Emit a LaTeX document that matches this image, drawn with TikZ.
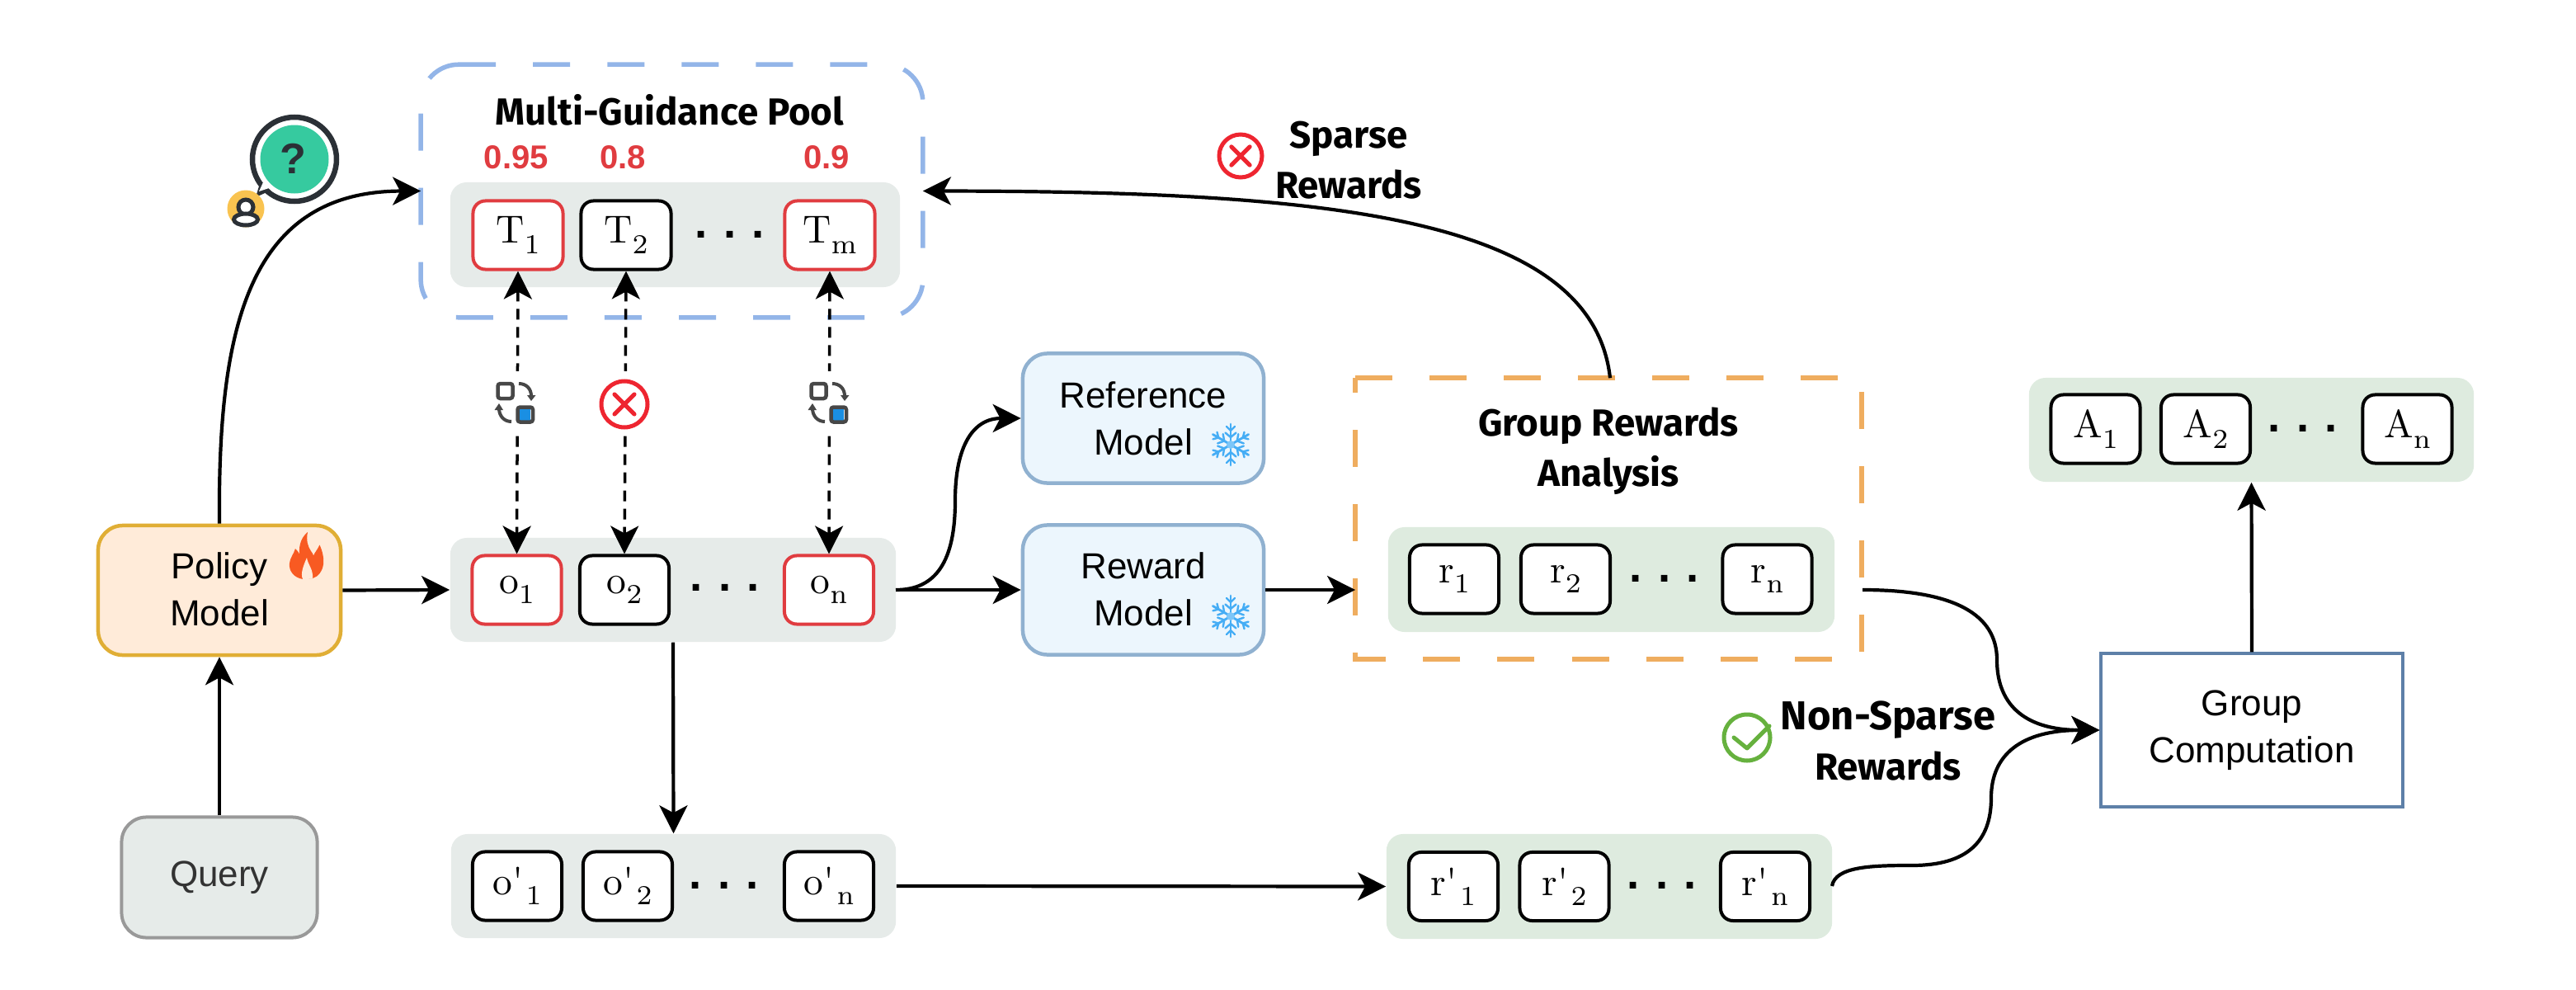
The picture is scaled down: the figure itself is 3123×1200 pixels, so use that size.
\RequirePackage{fix-cm}
\documentclass[tikz,border=0pt]{standalone}
\usepackage{graphicx}
\usepackage{fontspec}
\usetikzlibrary{arrows.meta}
\newfontfamily\arial{Liberation Sans}
\newfontfamily\comic{Fira Sans}
\definecolor{redc}{HTML}{E03C40}
\definecolor{xred}{HTML}{EE2530}
\definecolor{greybg}{HTML}{E6EBE9}
\definecolor{greenbg}{HTML}{DEEBDF}
\definecolor{bluedash}{HTML}{93B5E8}
\definecolor{orangedash}{HTML}{EFAD5F}
\definecolor{modelfill}{HTML}{ECF6FD}
\definecolor{modeldraw}{HTML}{90B1D0}
\definecolor{policyfill}{HTML}{FFEBD9}
\definecolor{policydraw}{HTML}{E0AE35}
\definecolor{querydraw}{HTML}{999999}
\definecolor{groupdraw}{HTML}{5E80A8}
\definecolor{icondark}{HTML}{2B3036}
\definecolor{swapdark}{HTML}{474747}
\definecolor{swapblue}{HTML}{1A8FE3}
\definecolor{qgreen}{HTML}{36CA9F}
\definecolor{qyellow}{HTML}{F9C350}
\definecolor{flame}{HTML}{F85A22}
\definecolor{snow}{HTML}{45ADF5}
\definecolor{okgreen}{HTML}{66B13E}
\tikzset{
  >={Stealth[length=.34cm,width=.34cm,inset=.09cm]},
  cell/.style={draw=black,fill=white,line width=.04cm,rounded corners=.15cm,minimum width=1.08cm,minimum height=.83cm,inner sep=0pt,font=\fontsize{10}{12}\selectfont},
  redcell/.style={cell,draw=redc},
  band/.style={fill=#1,rounded corners=.2cm,inner sep=0pt},
  model/.style={draw=modeldraw,fill=modelfill,line width=.045cm,rounded corners=.3cm,minimum width=2.92cm,minimum height=1.57cm,align=center,font=\arial\fontsize{12.5}{16.2}\selectfont},
  grouptitle/.style={font=\comic\bfseries\fontsize{13}{17}\selectfont,align=center},
  flow/.style={->,line width=.042cm},
  link/.style={<->,line width=.035cm,dash pattern=on .13cm off .09cm},
  dashframe/.style={draw=none,inner sep=0pt},
  bluedashes/.style={draw=bluedash,line width=.055cm,dash pattern=on .45cm off .45cm},
  orangedashes/.style={draw=orangedash,line width=.055cm,dash pattern=on .45cm off .45cm},
  dotsnode/.style={inner sep=0pt,font=\arial\bfseries\fontsize{15.5}{16}\selectfont},
  score/.style={text=redc,font=\arial\bfseries\fontsize{11.4}{13}\selectfont},
}
\newcommand{\threedots}{.\hspace{5.5pt}.\hspace{5.5pt}.}
\newcommand{\lab}[2]{\scalebox{1.35}{#1\raisebox{-2.6pt}{\fontsize{7}{8}\selectfont #2}}}
\newcommand{\labp}[2]{\scalebox{1.35}{#1\textquotesingle\hspace{.7pt}\raisebox{-2.6pt}{\fontsize{7}{8}\selectfont #2}}}
\newcommand{\up}[2]{\raisebox{#1}{#2}}
\newcommand{\swapicon}[1]{%
  \begin{scope}[shift={(#1,0)}]
    \fill[white] (596,450) rectangle (652,523);
    \draw[swapdark,line width=.045cm,rounded corners=.03cm] (603.5,465) rectangle (621.5,483);
    \fill[white] (627,493) rectangle (646,512);
    \fill[swapblue] (629,496) rectangle (643,510);
    \draw[swapdark,line width=.045cm,rounded corners=.03cm] (627.5,493.5) rectangle (646,511.5);
    \draw[swapdark,line width=.04cm] (629,465) .. controls (638,465) and (644,471) .. (644,480);
    \fill[swapdark] (639,479) -- (649.5,479) -- (644,486) -- cycle;
    \draw[swapdark,line width=.04cm] (620,511) .. controls (611,511) and (605,504) .. (605,495);
    \fill[swapdark] (599.5,497) -- (610,497) -- (605,489) -- cycle;
  \end{scope}}
\newcommand{\crossicon}[4]{% x y fill r
  \draw[xred,fill=#3,line width=.05cm] (#1,#2) circle (#4);
  \draw[xred,line width=.05cm,line cap=round] (#1-#4*.43,#2-#4*.43) -- (#1+#4*.43,#2+#4*.43) (#1-#4*.43,#2+#4*.43) -- (#1+#4*.43,#2-#4*.43);}
\newcommand{\snowicon}[2]{%
  \begin{scope}[shift={(#1,#2)},snow,line cap=round]
    \foreach \a in {30,90,...,330}{
      \draw[line width=.028cm] (0,0) -- (\a:25);
      \draw[line width=.024cm] (\a:17) -- ++(\a+45:7) (\a:17) -- ++(\a-45:7);
      \draw[line width=.024cm] (\a:9) -- ++(\a+50:8.5) (\a:9) -- ++(\a-50:8.5);
    }
    \fill[snow!70!white] (0,0) circle (5);
  \end{scope}}
\begin{document}
\begin{tikzpicture}[x=.01cm,y=-.01cm]
\path[use as bounding box] (0,0) rectangle (3123,1200);

% dashed group frames
\node[dashframe,minimum width=6.07cm,minimum height=3.05cm] (pool) at (814.5,231.5) {};
\draw[bluedashes] ([xshift=.46cm]pool.north west) -- ([xshift=-.46cm]pool.north east)
  arc[start angle=90,end angle=0,radius=.46cm] -- ([yshift=.46cm]pool.south east)
  arc[start angle=0,end angle=-90,radius=.46cm] -- ([xshift=.46cm]pool.south west)
  arc[start angle=-90,end angle=-180,radius=.46cm] -- ([yshift=-.46cm]pool.north west)
  arc[start angle=180,end angle=90,radius=.46cm];
\node[dashframe,minimum width=6.12cm,minimum height=3.39cm] (analysis) at (1950,628.5) {};
\draw[orangedashes] (analysis.north west) -- (analysis.north east) -- (analysis.south east) -- (analysis.south west) -- cycle;

% bands
\node[band=greybg,minimum width=5.45cm,minimum height=1.27cm] (tband) at (818.5,284.5) {};
\node[band=greybg,minimum width=5.40cm,minimum height=1.26cm] (oband) at (816,715) {};
\node[band=greybg,minimum width=5.39cm,minimum height=1.26cm] (obband) at (816.5,1074) {};
\node[band=greenbg,minimum width=5.41cm,minimum height=1.27cm] (rband) at (1953.5,702.5) {};
\node[band=greenbg,minimum width=5.40cm,minimum height=1.27cm] (rbband) at (1951,1074.5) {};
\node[band=greenbg,minimum width=5.39cm,minimum height=1.26cm] (aband) at (2729.5,521) {};

% titles and scores
\node[grouptitle] (pooltitle) at (812,133) {Multi-Guidance Pool};
\node[score] (s1) at (626,191) {0.95};
\node[score] (s2) at (755,191) {0.8};
\node[score] (s3) at (1002,191) {0.9};
\node[grouptitle] (antitle) at (1950,547) {Group Rewards\\[.3pt]Analysis};
\node[grouptitle] (sparse) at (1635,194) {Sparse\\[.3pt]Rewards};
\node[grouptitle] (nonsparse) at (2289,898) {{\fontsize{13.9}{17}\selectfont Non-Sparse}\\[.3pt]Rewards};

% cells: T
\node[redcell,minimum width=1.09cm] (T1) at (628,285) {\lab{T}{1}};
\node[cell,minimum width=1.09cm] (T2) at (759,285) {\lab{T}{2}};
\node[dotsnode] (Td) at (885,284) {\threedots};
\node[redcell,minimum width=1.09cm] (Tm) at (1006,285) {\lab{T}{m}};
% cells: o
\node[redcell] (o1) at (626.5,715) {\lab{o}{1}};
\node[cell] (o2) at (757,715) {\lab{o}{2}};
\node[dotsnode] (od) at (879,712) {\threedots};
\node[redcell] (on) at (1005,715) {\lab{o}{n}};
% cells: o'
\node[cell] (ob1) at (627,1074) {\labp{o}{1}};
\node[cell] (ob2) at (761,1074) {\labp{o}{2}};
\node[dotsnode] (obd) at (878,1073) {\threedots};
\node[cell] (obn) at (1005,1074) {\labp{o}{n}};
% cells: r
\node[cell] (r1) at (1763,702) {\lab{r}{1}};
\node[cell] (r2) at (1898,702) {\lab{r}{2}};
\node[dotsnode] (rd) at (2018,701) {\threedots};
\node[cell] (rn) at (2142.5,702) {\lab{r}{n}};
% cells: r'
\node[cell] (rb1) at (1762,1074.5) {\labp{r}{1}};
\node[cell] (rb2) at (1896.5,1074.5) {\labp{r}{2}};
\node[dotsnode] (rbd) at (2015,1073) {\threedots};
\node[cell] (rbn) at (2140,1074.5) {\labp{r}{n}};
% cells: A
\node[cell] (A1) at (2540.5,520) {\lab{A}{1}};
\node[cell] (A2) at (2674,520) {\lab{A}{2}};
\node[dotsnode] (Ad) at (2792,519) {\threedots};
\node[cell] (An) at (2918.5,520) {\lab{A}{n}};

% models
\node[draw=policydraw,fill=policyfill,line width=.045cm,rounded corners=.3cm,minimum width=2.94cm,minimum height=1.57cm,align=center,font=\arial\fontsize{12.5}{16.2}\selectfont] (policy) at (266,715.5) {\up{.7pt}{Policy}\\\up{.7pt}{Model}};
\node[draw=querydraw,fill=greybg,line width=.04cm,rounded corners=.3cm,minimum width=2.37cm,minimum height=1.46cm,text=black!80,font=\arial\fontsize{12.5}{16.2}\selectfont] (query) at (266,1063.5) {Query};
\node[model] (reference) at (1386,507) {Reference\\Model};
\node[model] (reward) at (1386,715) {\up{.5pt}{Reward}\\\up{.5pt}{Model}};
\node[draw=groupdraw,fill=white,line width=.04cm,minimum width=3.65cm,minimum height=1.85cm,align=center,font=\arial\fontsize{12.5}{16.2}\selectfont] (group) at (2730,885) {\up{-1pt}{Group}\\\up{-1pt}{Computation}};

% free curve ends
\coordinate (rout) at (2258,715);
\coordinate (rbout) at (2221,1074);
\coordinate (ocurve) at (1158,607);
\coordinate (oout) at (1086,715);

% connectors
\draw[link] (T1.south) -- (o1.north);
\draw[link] (T2.south) -- (o2.north);
\draw[link] (Tm.south) -- (on.north);
\draw[flow] (query.north) -- (policy.south);
\draw[flow] (policy.north) .. controls (264,400) and (300,232) .. (pool.west);
\draw[flow] (policy.east) -- (oband.west);
\draw[flow] (oband.east) -- (reward.west);
\draw[flow] (oout) .. controls (1135,715) and (1158,680) .. (ocurve) .. controls (1158,540) and (1180,507) .. (reference.west);
\draw[flow] (reward.east) -- (analysis.west |- reward.east);
\draw[flow] (oband.south) -- (obband.north);
\draw[flow] (obband.east) -- (rbband.west);
\draw[flow] ([xshift=.02cm]analysis.north) .. controls (1930,260) and (1600,232) .. (pool.east);
\draw[flow] (rout) .. controls (2370,715) and (2421,745) .. (2421,800) .. controls (2421,850) and (2450,885) .. (group.west);
\draw[flow] (rbout) .. controls (2225,1050) and (2270,1049) .. (2318,1049) .. controls (2385,1049) and (2414,1020) .. (2414,967) .. controls (2414,915) and (2450,885) .. (group.west);
\draw[flow] (group.north) -- (aband.south);

% swap and cross icons on the links
\swapicon{0}
\swapicon{380}
\fill[white] (730,450) rectangle (785,523);
\crossicon{757}{490}{white}{28}
\crossicon{1504}{189}{white}{26}

% check icon
\draw[okgreen,line width=.05cm] (2118,894) circle (28);
\draw[okgreen,line width=.05cm,line join=round,line cap=round] (2102,894) -- (2118,907) -- (2145,880);

% flame
\fill[flame] (367,702) .. controls (356,700) and (350,692) .. (351,683) .. controls (352,675) and (356,672) .. (358,665) .. controls (362,669) and (364,672) .. (364,676) .. controls (361,665) and (364,652) .. (373,645) .. controls (371,655) and (373,662) .. (377,668) .. controls (379,671) and (380,672) .. (380,673.5) .. controls (382,669) and (385,666) .. (387.5,660.5) .. controls (391,668) and (393,677) .. (392,684) .. controls (391,692) and (386,699) .. (379,701) -- cycle;
\fill[policyfill] (367,702) .. controls (364,695) and (368,685) .. (372,676) .. controls (373,684) and (380,690) .. (379,701) .. controls (376,702) and (370,702) .. (367,702) -- cycle;

% snowflakes
\snowicon{1492}{539}
\snowicon{1492}{747}

% question icon
\draw[icondark,line width=.065cm,fill=white] (357,193) circle (51);
\fill[icondark] (310,239) -- (316,219) -- (328,231) -- cycle;
\fill[white] (314,232) -- (319,221) -- (326,228) -- cycle;
\fill[qgreen] (357,193) circle (41.5);
\node[text=icondark,inner sep=0pt,font=\arial\bfseries\fontsize{14.8}{16}\selectfont] (qmark) at (355,192) {?};
\fill[qyellow] (298,253) circle (22.5);
\draw[icondark,line width=.05cm,fill=white] (298,251) circle (9);
\draw[icondark,line width=.05cm,fill=white] (298,266) ellipse (14.5 and 7);
\end{tikzpicture}
\end{document}
